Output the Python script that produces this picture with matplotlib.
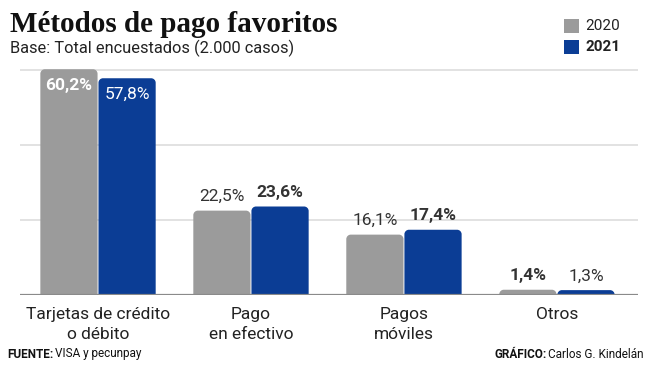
import matplotlib
matplotlib.use("Agg")
import matplotlib.pyplot as plt
from matplotlib.path import Path
from matplotlib.patches import PathPatch, Rectangle
import numpy as np

categories = ["Tarjetas de crédito\no débito", "Pago\nen efectivo", "Pagos\nmóviles", "Otros"]
values_2020 = [60.2, 22.5, 16.1, 1.4]
values_2021 = [57.8, 23.6, 17.4, 1.3]
labels_2020 = ["60,2%", "22,5%", "16,1%", "1,4%"]
labels_2021 = ["57,8%", "23,6%", "17,4%", "1,3%"]
series_names = ["2020", "2021"]

GRAY = "#9b9b9b"
BLUE = "#0b3d95"
TXT = "#333333"
FONT = "Roboto"
NARROW = ["Liberation Sans Narrow", "Roboto"]

W, H = 654, 369
fig = plt.figure(figsize=(W / 100, H / 100), dpi=100)
ax = fig.add_axes([20 / W, 1 - 295 / H, 618 / W, 232.5 / H])
ax.set_xlim(-0.51, 3.53)
ax.set_ylim(0, 62)

x = np.arange(len(categories))
bw = 0.38
b1 = ax.bar(x - bw / 2, values_2020, bw, color=GRAY, zorder=3)
b2 = ax.bar(x + bw / 2, values_2021, bw, color=BLUE, zorder=3)

# convert to rounded-top bars
pxx = 618 / (3.53 + 0.51)
pxy = 232.5 / 62
r_px = 4.5
rx, ry = r_px / pxx, r_px / pxy
k = 0.5523
def rounded(rect, color):
    x0, y0 = rect.get_x() + 0.003, rect.get_y()
    w, h = rect.get_width() - 0.006, rect.get_height()
    ryy = min(ry, h)
    x1, y1 = x0 + w, y0 + h
    verts = [(x0, y0), (x0, y1 - ryy),
             (x0, y1 - ryy + k * ryy), (x0 + rx - k * rx, y1), (x0 + rx, y1),
             (x1 - rx, y1),
             (x1 - rx + k * rx, y1), (x1, y1 - ryy + k * ryy), (x1, y1 - ryy),
             (x1, y0), (x0, y0)]
    codes = [Path.MOVETO, Path.LINETO,
             Path.CURVE4, Path.CURVE4, Path.CURVE4,
             Path.LINETO,
             Path.CURVE4, Path.CURVE4, Path.CURVE4,
             Path.LINETO, Path.CLOSEPOLY]
    rect.set_visible(False)
    ax.add_patch(PathPatch(Path(verts, codes), facecolor=color, edgecolor="none", zorder=3))

for r in b1:
    rounded(r, GRAY)
for r in b2:
    rounded(r, BLUE)

# grid
for g in [20, 40, 60]:
    ax.axhline(g, color="#dddddd", lw=1.2, zorder=1)
ax.axhline(0, color="#8a8a8a", lw=1.6, zorder=4)
for s in ax.spines.values():
    s.set_visible(False)
ax.set_xticks([])
ax.set_yticks([])

# value labels
bold2020 = [True, False, False, True]
for i in range(len(categories)):
    for xs, v, lab, bold, inside in [
        (x[i] - bw / 2, values_2020[i], labels_2020[i], bold2020[i], i == 0),
        (x[i] + bw / 2, values_2021[i], labels_2021[i], not bold2020[i], i == 0),
    ]:
        if inside:
            ax.text(xs, v - 16 / pxy, lab, ha="center", va="center", color="white",
                    fontsize=12.5, fontweight="bold" if bold else "normal", family=FONT, zorder=5)
        else:
            ax.text(xs, v + 14 / pxy, lab, ha="center", va="center", color=TXT,
                    fontsize=12.5, fontweight="bold" if bold else "normal", family=FONT, zorder=5)

# category labels
for i, c in enumerate(categories):
    ax.text(x[i], -12 / pxy, c, ha="center", va="top", color="#222222",
            fontsize=12.5, family=FONT, linespacing=1.42)

# title
fig.text(10 / W, 1 - 32 / H, "Métodos de pago favoritos", ha="left", va="baseline",
         fontsize=21, fontweight="bold", family="Liberation Serif", color="#111111")
fig.text(10 / W, 1 - 48 / H, "Base: Total encuestados (2.000 casos)", ha="left", va="center",
         fontsize=11.8, family=FONT, color="#222222")

# legend
for j, (name, col) in enumerate(zip(series_names, [GRAY, BLUE])):
    yc = 26 + j * 21
    fig.patches.append(Rectangle((564 / W, 1 - (yc + 7) / H), 15 / W, 14 / H,
                                 transform=fig.transFigure, facecolor=col, edgecolor="none"))
    fig.text(585 / W, 1 - yc / H, name, ha="left", va="center", fontsize=11, family=FONT,
             fontweight="bold" if j == 1 else "normal", color="#222222")

# footer
FS = 8.5
t = fig.text(7 / W, 1 - 354 / H, "FUENTE:", ha="left", va="center", fontsize=FS,
             family=NARROW, fontweight="bold", color="#111111")
fig.canvas.draw()
bb = t.get_window_extent()
fig.text(bb.x1 / W + 2 / W, 1 - 354 / H, "VISA y pecunpay", ha="left", va="center",
         fontsize=FS, family=NARROW, color="#111111")
t2 = fig.text(644 / W, 1 - 354 / H, "Carlos G. Kindelán", ha="right", va="center",
              fontsize=FS, family=NARROW, color="#111111")
fig.canvas.draw()
bb2 = t2.get_window_extent()
fig.text(bb2.x0 / W - 2 / W, 1 - 354 / H, "GRÁFICO:", ha="right", va="center", fontsize=FS,
         family=NARROW, fontweight="bold", color="#111111")

fig.savefig("out.png", dpi=100)
